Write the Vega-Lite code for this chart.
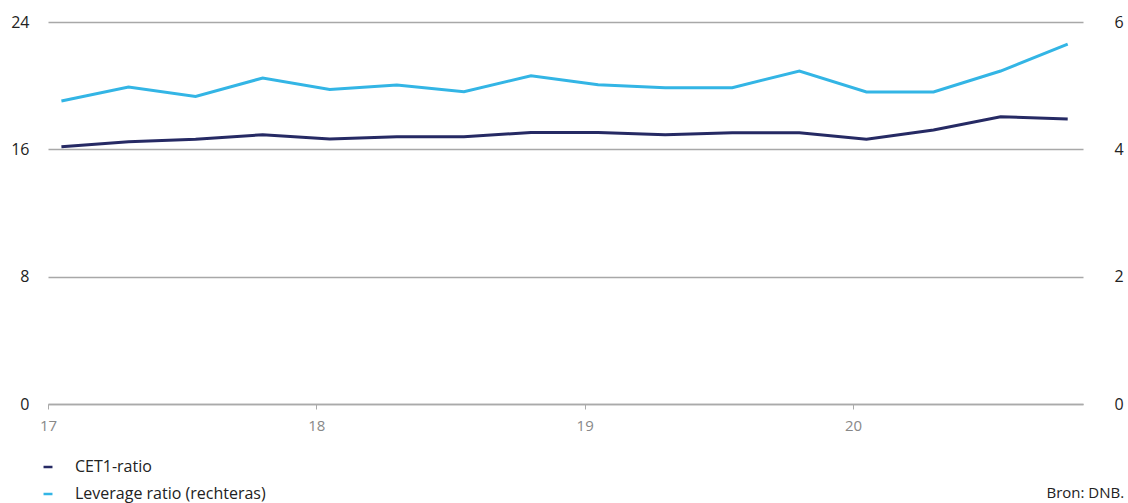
{
  "$schema": "https://vega.github.io/schema/vega-lite/v6.json",
  "width": 1035,
  "height": 382,
  "autosize": "none",
  "padding": {"left": 48, "top": 22, "right": 45, "bottom": 99},
  "background": "white",
  "config": {
    "view": {"stroke": null},
    "font": "Open Sans"
  },
  "title": {
    "text": "Bron: DNB.",
    "orient": "bottom",
    "anchor": "end",
    "dx": 1,
    "offset": -16,
    "fontSize": 15,
    "fontWeight": "normal",
    "color": "#222222",
    "font": "Open Sans"
  },
  "data": {
    "values": [
      {"t": 17.05, "cet1": 16.16, "lev": 4.76},
      {"t": 17.30, "cet1": 16.48, "lev": 4.98},
      {"t": 17.55, "cet1": 16.63, "lev": 4.83},
      {"t": 17.80, "cet1": 16.92, "lev": 5.12},
      {"t": 18.05, "cet1": 16.65, "lev": 4.94},
      {"t": 18.30, "cet1": 16.79, "lev": 5.01},
      {"t": 18.55, "cet1": 16.79, "lev": 4.905},
      {"t": 18.80, "cet1": 17.06, "lev": 5.157},
      {"t": 19.05, "cet1": 17.06, "lev": 5.015},
      {"t": 19.30, "cet1": 16.92, "lev": 4.968},
      {"t": 19.55, "cet1": 17.04, "lev": 4.968},
      {"t": 19.80, "cet1": 17.04, "lev": 5.23},
      {"t": 20.05, "cet1": 16.63, "lev": 4.90},
      {"t": 20.30, "cet1": 17.21, "lev": 4.90},
      {"t": 20.55, "cet1": 18.05, "lev": 5.23},
      {"t": 20.80, "cet1": 17.90, "lev": 5.654}
    ]
  },
  "encoding": {
    "x": {
      "field": "t",
      "type": "quantitative",
      "scale": {"domain": [17, 20.857], "nice": false, "zero": false},
      "axis": {
        "title": null,
        "values": [17, 18, 19, 20],
        "format": "d",
        "grid": false,
        "labelFlush": false,
        "domainColor": "#aaaaaa",
        "domainWidth": 1.5,
        "tickColor": "#aaaaaa",
        "tickSize": 5,
        "labelColor": "#888888",
        "labelFont": "Open Sans",
        "labelFontSize": 15,
        "labelPadding": 9
      }
    },
    "color": {
      "type": "nominal",
      "scale": {
        "domain": ["CET1-ratio", "Leverage ratio (rechteras)"],
        "range": ["#262a64", "#33b5e5"]
      },
      "legend": {
        "title": null,
        "orient": "none",
        "legendX": -8,
        "legendY": 437,
        "direction": "vertical",
        "symbolType": "stroke",
        "symbolSize": 80,
        "symbolStrokeWidth": 2.5,
        "labelFont": "Open Sans",
        "labelFontSize": 16,
        "labelColor": "#222222",
        "labelOffset": 19,
        "labelLimit": 400,
        "rowPadding": 11,
        "padding": 0
      }
    }
  },
  "layer": [
    {
      "mark": {"type": "line", "strokeWidth": 3, "strokeJoin": "miter"},
      "encoding": {
        "y": {
          "field": "cet1",
          "type": "quantitative",
          "scale": {"domain": [0, 24], "nice": false},
          "axis": {
            "title": null,
            "orient": "left",
            "values": [0, 8, 16, 24],
            "grid": true,
            "gridColor": "#a8a8a8",
            "gridWidth": 1.5,
            "domain": false,
            "ticks": false,
            "labelFont": "Open Sans",
            "labelFontSize": 16,
            "labelColor": "#222222",
            "labelPadding": 19
          }
        },
        "color": {"datum": "CET1-ratio"}
      }
    },
    {
      "mark": {"type": "line", "strokeWidth": 3, "strokeJoin": "miter"},
      "encoding": {
        "y": {
          "field": "lev",
          "type": "quantitative",
          "scale": {"domain": [0, 6], "nice": false},
          "axis": {
            "title": null,
            "orient": "right",
            "values": [0, 2, 4, 6],
            "grid": false,
            "domain": false,
            "ticks": false,
            "labelFont": "Open Sans",
            "labelFontSize": 16,
            "labelColor": "#222222",
            "labelPadding": 31
          }
        },
        "color": {"datum": "Leverage ratio (rechteras)"}
      }
    }
  ],
  "resolve": {"scale": {"y": "independent"}}
}
